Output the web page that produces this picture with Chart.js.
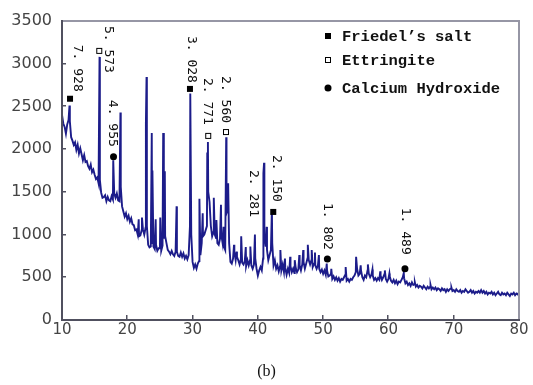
<!DOCTYPE html>
<html>
<head>
<meta charset="utf-8">
<script src="https://cdn.jsdelivr.net/npm/chart.js@4.4.0/dist/chart.umd.min.js"></script>
<style>
  html, body { margin: 0; padding: 0; background: #fff; }
</style>
</head>
<body>
<canvas id="xrd" width="533" height="385"></canvas>
<script>
// XRD scan, 2-theta from 10 to 80 deg, step 0.2
const scanStart = 10;
const scanStep = 0.2;
const baseCounts = [
  2400, 2300, 2260, 2180, 2290,
  2340, 2330, 2140, 2100, 2050,
  2080, 1990, 2050, 1950, 2010,
  1940, 1870, 1930, 1850, 1860,
  1800, 1770, 1820, 1730, 1760,
  1700, 1650, 1670, 1600, 1640,
  1490, 1430, 1440, 1460, 1390,
  1440, 1400, 1390, 1450, 1410,
  1480, 1430, 1480, 1400, 1390,
  1560, 1330, 1270, 1210, 1250,
  1180, 1220, 1150, 1190, 1120,
  1110, 1050, 1060, 1000, 980,
  990, 1050, 1060, 1000, 1080,
  1100, 880, 850, 860, 900,
  860, 830, 880, 810, 840,
  840, 810, 870, 950, 980,
  900, 820, 800, 770, 810,
  770, 750, 800, 800, 750,
  740, 790, 740, 780, 720,
  750, 710, 760, 1100, 1000,
  680, 610, 650, 600, 660,
  690, 760, 900, 980, 1000,
  1050, 1100, 1500, 1380, 1100,
  980, 1030, 1000, 960, 900,
  880, 950, 1000, 900, 860,
  820, 1250, 1300, 900, 680,
  660, 720, 800, 700, 740,
  700, 650, 710, 670, 650,
  690, 630, 700, 640, 700,
  640, 600, 650, 720, 600,
  520, 580, 620, 580, 720,
  1000, 860, 820, 700, 760,
  820, 900, 640, 700, 600,
  640, 570, 630, 580, 650,
  560, 610, 530, 600, 550,
  630, 560, 600, 550, 610,
  560, 590, 640, 580, 650,
  680, 600, 660, 720, 700,
  650, 700, 620, 660, 640,
  600, 640, 600, 560, 590,
  540, 580, 530, 580, 510,
  520, 540, 480, 510, 470,
  500, 460, 490, 450, 480,
  470, 500, 530, 460, 480,
  450, 480, 470, 500, 520,
  560, 600, 520, 540, 580,
  500, 470, 520, 500, 580,
  540, 500, 530, 520, 470,
  490, 460, 490, 470, 520,
  470, 500, 540, 480, 450,
  480, 510, 460, 440, 470,
  430, 460, 420, 450, 440,
  470, 500, 490, 430, 450,
  410, 430, 400, 440, 410,
  420, 390, 410, 380, 400,
  390, 370, 400, 380, 360,
  390, 370, 390, 360, 380,
  360, 380, 350, 370, 360,
  340, 370, 350, 360, 330,
  360, 340, 360, 370, 340,
  350, 330, 360, 340, 330,
  350, 320, 340, 330, 360,
  340, 320, 330, 350, 320,
  340, 310, 330, 320, 340,
  320, 350, 320, 340, 310,
  330, 300, 320, 310, 330,
  300, 320, 290, 310, 330,
  300, 290, 320, 300, 310,
  290, 320, 300, 280, 310,
  300, 320, 290, 310, 300,
  320
];

// sharp reflections
const peakAngles = [11.15, 15.75, 17.85, 18.95, 21.75, 22.25, 22.85, 22.95, 23.75, 23.85,
  24.35, 25.05, 25.5, 25.75, 27.55, 29.65, 31.05, 31.55, 32.25, 32.35,
  33.25, 33.65, 34.35, 34.75, 35.15, 35.45, 36.35, 36.75, 37.45, 38.15,
  38.85, 39.55, 40.85, 40.95, 41.35, 42.15, 43.45, 44.15, 44.95, 45.65,
  46.35, 46.95, 47.65, 48.25, 48.75, 49.35, 50.55, 51.25, 53.45, 55.05,
  55.75, 56.85, 57.55, 58.75, 59.45, 60.15, 62.35, 64.05, 66.45, 69.65, 74.25];
const peakCounts = [2510, 3080, 1870, 2430, 1180, 1200, 2300, 2845, 2190, 1750,
  1180, 1200, 2190, 1740, 1330, 2650, 1420, 1250, 1950, 2085,
  1430, 1170, 1350, 1090, 2140, 1600, 880, 800, 980, 855,
  860, 1000, 1720, 1840, 1090, 1300, 820, 720, 740, 700,
  760, 820, 880, 820, 790, 760, 660, 600, 620, 740,
  640, 650, 590, 570, 580, 545, 550, 440, 410, 380, 350];

// d-spacing labels on the peaks
const peakLabels = ['7. 928', '5. 573', '4. 955', '3. 028', '2. 771', '2. 560', '2. 281', '2. 150', '1. 802', '1. 489'];
const labelPhase = ['friedel', 'ettringite', 'ch', 'friedel', 'ettringite', 'ettringite', '', 'friedel', 'ch', 'ch'];
const labelAngle = [11.23, 15.71, 17.89, 29.6, 32.4, 35.12, 39.25, 42.36, 50.65, 62.53];
const labelCount = [2590, 3150, 1910, 2705, 2155, 2200, 1206, 1265, 715, 600];

const legendPhase = ['friedel', 'ettringite', 'ch'];
const legendText = ['Friedel\u2019s salt', 'Ettringite', 'Calcium Hydroxide'];

// text offsets (px) from each marker
const labelShift = [[7, -7], [9, 22], [-1, -10], [1, -6], [-1, -11], [-1, -9], [0, 0], [3, -10], [0, -9], [0, -14]];
const legendRows = [36, 60, 88];

const points = baseCounts
  .map((c, i) => ({ x: +(scanStart + i * scanStep).toFixed(2), y: c }))
  .concat(peakAngles.map((a, i) => ({ x: a, y: peakCounts[i] })))
  .sort((p, q) => p.x - q.x);

function drawMark(ctx, kind, x, y) {
  ctx.save();
  ctx.fillStyle = '#000';
  ctx.strokeStyle = '#000';
  ctx.lineWidth = 1;
  if (kind === 'friedel') {
    ctx.fillRect(x - 3, y - 3, 6, 6);
  } else if (kind === 'ettringite') {
    ctx.fillStyle = '#fff';
    ctx.fillRect(x - 3, y - 3, 6, 6);
    ctx.strokeRect(x - 2.5, y - 2.5, 5, 5);
  } else if (kind === 'ch') {
    ctx.beginPath();
    ctx.arc(x, y, 3.5, 0, Math.PI * 2);
    ctx.fill();
  }
  ctx.restore();
}

const decor = {
  id: 'decor',
  afterDraw(chart) {
    const ctx = chart.ctx;
    const area = chart.chartArea;
    const xs = chart.scales.x, ys = chart.scales.y;
    const L = area.left, R = area.right, T = area.top, B = area.bottom;
    ctx.save();
    // light frame top/right
    ctx.fillStyle = 'rgb(150, 150, 165)';
    ctx.fillRect(L - 1, T - 1, R - L + 2, 2);
    ctx.fillRect(R - 1, T - 1, 2, B - T + 2);
    // axes left/bottom
    ctx.fillStyle = 'rgb(80, 80, 95)';
    ctx.fillRect(L - 1, T - 1, 2, B - T + 2);
    ctx.fillRect(L - 1, B - 1, R - L + 2, 2);
    // inward ticks
    [20, 30, 40, 50, 60, 70].forEach(v => {
      const px = Math.round(xs.getPixelForValue(v));
      ctx.fillRect(px - 1, B - 5, 1.5, 5);
    });
    [500, 1000, 1500, 2000, 2500, 3000].forEach(v => {
      const py = Math.round(ys.getPixelForValue(v));
      ctx.fillRect(L, py - 1, 4, 1.5);
    });

    ctx.fillStyle = '#111';
    ctx.font = '13px "DejaVu Sans Mono"';
    peakLabels.forEach((txt, i) => {
      const px = xs.getPixelForValue(labelAngle[i]);
      const py = ys.getPixelForValue(labelCount[i]);
      drawMark(ctx, labelPhase[i], px, py);
      ctx.save();
      ctx.translate(px + labelShift[i][0], py + labelShift[i][1]);
      ctx.rotate(Math.PI / 2);
      ctx.textAlign = 'right';
      ctx.textBaseline = 'middle';
      ctx.fillText(txt, 0, 0);
      ctx.restore();
    });
    // legend
    ctx.font = 'bold 15.5px "Liberation Mono"';
    ctx.textAlign = 'left';
    ctx.textBaseline = 'middle';
    legendPhase.forEach((k, i) => {
      drawMark(ctx, k, 328, legendRows[i]);
      ctx.fillText(legendText[i], 342, legendRows[i] + 1);
    });
    // caption
    ctx.font = '16px "Liberation Serif"';
    ctx.textAlign = 'center';
    ctx.fillText('(b)', chart.width / 2, 372);
    ctx.restore();
  }
};

new Chart(document.getElementById('xrd'), {
  type: 'line',
  data: {
    datasets: [{
      data: points,
      borderColor: '#1c1c8a',
      borderWidth: 1.9,
      pointRadius: 0,
      tension: 0
    }]
  },
  options: {
    responsive: false,
    animation: false,
    layout: { padding: { top: 21, right: 14, left: 0, bottom: 0 } },
    plugins: { legend: { display: false }, tooltip: { enabled: false } },
    scales: {
      x: {
        type: 'linear',
        min: 10, max: 80,
        afterFit: s => { s.height = 65; s.paddingLeft = 0; s.paddingRight = 0; },
        grid: { display: false, drawTicks: false },
        border: { display: false },
        ticks: { stepSize: 10, padding: 1, color: '#444', font: { family: 'DejaVu Sans', size: 15 } }
      },
      y: {
        min: 0, max: 3500,
        afterFit: s => { s.width = 62; s.paddingTop = 0; s.paddingBottom = 0; },
        grid: { display: false, drawTicks: false },
        border: { display: false },
        ticks: {
          stepSize: 500, padding: 10, color: '#444',
          font: { family: 'DejaVu Sans', size: 16 },
          callback: v => String(v)
        }
      }
    }
  },
  plugins: [decor]
});
</script>
</body>
</html>
